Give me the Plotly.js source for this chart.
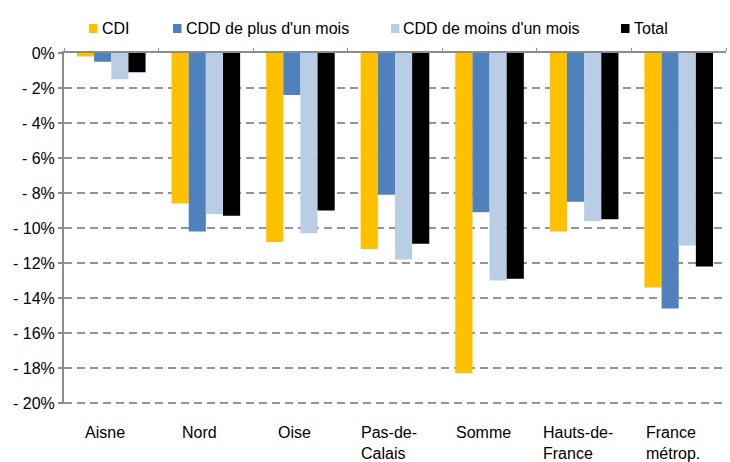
<!DOCTYPE html>
<html>
<head>
<meta charset="utf-8">
<script src="https://cdn.plot.ly/plotly-3.0.1.min.js"></script>
<style>html,body{margin:0;padding:0;background:#fff;}#chart{width:730px;height:462px;}</style>
</head>
<body>
<div id="chart"></div>
<script>
// ---- data ----
const categories = ["Aisne", "Nord", "Oise", "Pas-de-<br>Calais", "Somme", "Hauts-de-<br>France", "France<br>métrop."];
const seriesNames = ["CDI", "CDD de plus d'un mois", "CDD de moins d'un mois", "Total"];
const cdi      = [-0.2, -8.6, -10.8, -11.2, -18.3, -10.2, -13.4];
const cddPlus  = [-0.5, -10.2, -2.4, -8.1, -9.1, -8.5, -14.6];
const cddMoins = [-1.5, -9.2, -10.3, -11.8, -13.0, -9.6, -11.0];
const total    = [-1.1, -9.3, -9.0, -10.9, -12.9, -9.5, -12.2];
const yTickVals = [0, -2, -4, -6, -8, -10, -12, -14, -16, -18, -20];
const yTickText = ["0%", "- 2%", "- 4%", "- 6%", "- 8%", "- 10%", "- 12%", "- 14%", "- 16%", "- 18%", "- 20%"];

// ---- styles ----
const colors = ["#FFC000", "#4F81BD", "#B9CDE5", "#000000"];
const values = [cdi, cddPlus, cddMoins, total];
const FONT = "'Liberation Sans', Arial, sans-serif";
const W = 730, H = 462;
const M = {l: 64, r: 4, t: 53, b: 58};
const pw = W - M.l - M.r, ph = H - M.t - M.b;
const px2x = p => (p - M.l) / pw;
const py2y = p => (H - M.b - p) / ph;
const legendSymbolPx = [89, 173, 391, 621];
const legendCenterPy = 28.5;

const traces = seriesNames.map((name, i) => ({
  type: "bar",
  name: name,
  x: categories,
  y: values[i],
  marker: {color: colors[i], line: {width: 0}},
  hovertemplate: "%{y:.1f}%<extra>" + name + "</extra>"
}));

const shapes = [];
const annotations = [];
seriesNames.forEach((name, i) => {
  const sx = legendSymbolPx[i];
  shapes.push({
    type: "rect", xref: "paper", yref: "paper",
    x0: px2x(sx), x1: px2x(sx + 8.5),
    y0: py2y(legendCenterPy + 4.5), y1: py2y(legendCenterPy - 4.5),
    fillcolor: colors[i], line: {width: 0}
  });
  annotations.push({
    xref: "paper", yref: "paper",
    x: px2x(sx + 10.5), y: py2y(legendCenterPy),
    xanchor: "left", yanchor: "middle",
    text: name, showarrow: false,
    font: {family: FONT, size: 16, color: "#000"}
  });
});
categories.forEach(c => {
  annotations.push({
    xref: "x", yref: "paper", x: c, y: 0,
    xanchor: "center", yanchor: "top", align: "left",
    xshift: -6, yshift: -18,
    text: c, showarrow: false,
    font: {family: FONT, size: 16, color: "#000"}
  });
});

const layout = {
  width: W, height: H,
  margin: M,
  paper_bgcolor: "#fff", plot_bgcolor: "#fff",
  showlegend: false,
  barmode: "group",
  bargap: 0.275,
  bargroupgap: 0,
  font: {family: FONT, size: 16, color: "#000"},
  xaxis: {
    type: "category",
    side: "top",
    showticklabels: false,
    showline: true, linecolor: "#8c8c8c", linewidth: 2,
    ticks: "outside", tickson: "boundaries", ticklen: 3, tickcolor: "#8c8c8c", tickwidth: 1,
    showgrid: false, zeroline: false, fixedrange: true
  },
  yaxis: {
    range: [-20.06, 0],
    tickmode: "array", tickvals: yTickVals, ticktext: yTickText,
    tickfont: {family: FONT, size: 16, color: "#000"},
    showline: true, linecolor: "#8c8c8c", linewidth: 2,
    ticks: "outside", ticklen: 4, tickcolor: "#8c8c8c", tickwidth: 1.5,
    showgrid: true, gridcolor: "#959595", gridwidth: 1.5, griddash: "8px,5px",
    zeroline: false, fixedrange: true
  },
  shapes: shapes,
  annotations: annotations
};

Plotly.newPlot("chart", traces, layout, {displayModeBar: false, staticPlot: true});
</script>
</body>
</html>
